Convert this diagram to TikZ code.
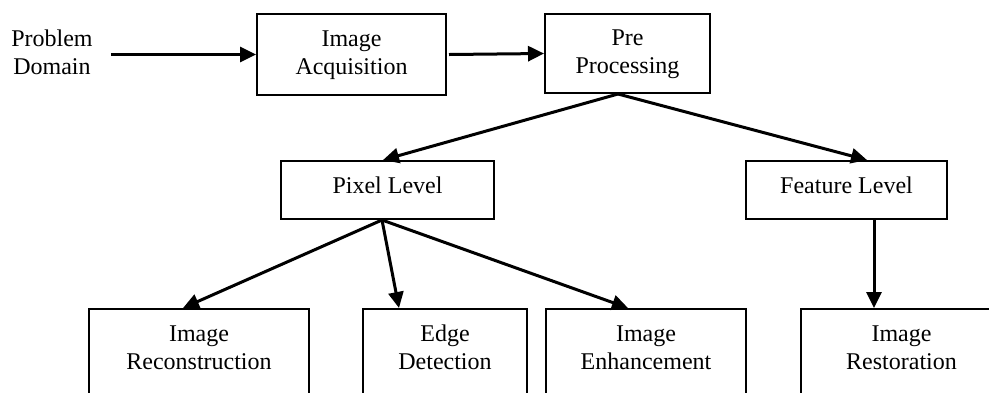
\documentclass[tikz,border=0pt]{standalone}
\usepackage{fontspec}
\setmainfont{Liberation Serif}
\usetikzlibrary{arrows.meta}
\newcommand{\fsz}{\fontsize{24}{28}\selectfont}
\tikzset{
  box/.style={draw, line width=2pt, inner sep=0pt, align=center, font=\fsz},
  onebox/.style={box, text height=16pt, text depth=10pt},
  lowbox/.style={draw, line width=2pt, anchor=north, minimum height=130pt, inner sep=0pt},
  txt/.style={align=center, font=\fsz, inner sep=0pt},
  arr/.style={line width=3pt, -{Triangle[length={16pt 0 0},width={15pt 0 0}]}},
}
\begin{document}
\begin{tikzpicture}[x=1pt,y=-1pt]
\useasboundingbox (0,0) rectangle (989,392);
\clip (0,0) rectangle (989,392);
\fill[white] (0,0) rectangle (989,392);
% top row
\node[txt] (prob) at (52,55) {\strut Problem\\\strut Domain};
\node[box, minimum width=189pt, minimum height=81pt] (acq) at (351.5,54.5) {\strut Image\\\strut Acquisition};
\node[box, minimum width=165pt, minimum height=79pt] (pre) at (627.5,53.5) {\strut Pre\\\strut Processing};
% middle row
\node[onebox, minimum width=213pt, minimum height=58pt] (pix) at (387.5,190) {Pixel Level};
\node[onebox, minimum width=201pt, minimum height=58pt] (feat) at (846.5,190) {Feature Level};
% bottom row
\node[lowbox, minimum width=220pt] (rec) at (199,308) {};
\node[lowbox, minimum width=164pt] (edge) at (445,308) {};
\node[lowbox, minimum width=200pt] (enh) at (646,308) {};
\node[lowbox, minimum width=201pt] (rest) at (901.5,308) {};
\node[txt] (rect) at (199,350) {\strut Image\\\strut Reconstruction};
\node[txt] (edget) at (445,350) {\strut Edge\\\strut Detection};
\node[txt] (enht) at (646,350) {\strut Image\\\strut Enhancement};
\node[txt] (restt) at (901.5,350) {\strut Image\\\strut Restoration};
% connectors
\draw[arr, shorten <=18pt] (prob.east |- acq.west) -- (acq.west);
\draw[arr] ([xshift=2pt]acq.east) -- (pre.west);
\draw[arr] ([xshift=-9.5pt]pre.south) -- ([xshift=-4.5pt]pix.north);
\draw[arr] ([xshift=-9.5pt]pre.south) -- ([xshift=20.5pt]feat.north);
\draw[arr] ([xshift=-5.5pt]pix.south) -- ([xshift=-16pt]rec.north);
\draw[arr] ([xshift=-5.5pt]pix.south) -- ([xshift=-46pt]edge.north);
\draw[arr] ([xshift=-5.5pt]pix.south) -- ([xshift=-18pt]enh.north);
\draw[arr] ([xshift=27.5pt]feat.south) -- ([xshift=-27.5pt]rest.north);
\end{tikzpicture}
\end{document}
